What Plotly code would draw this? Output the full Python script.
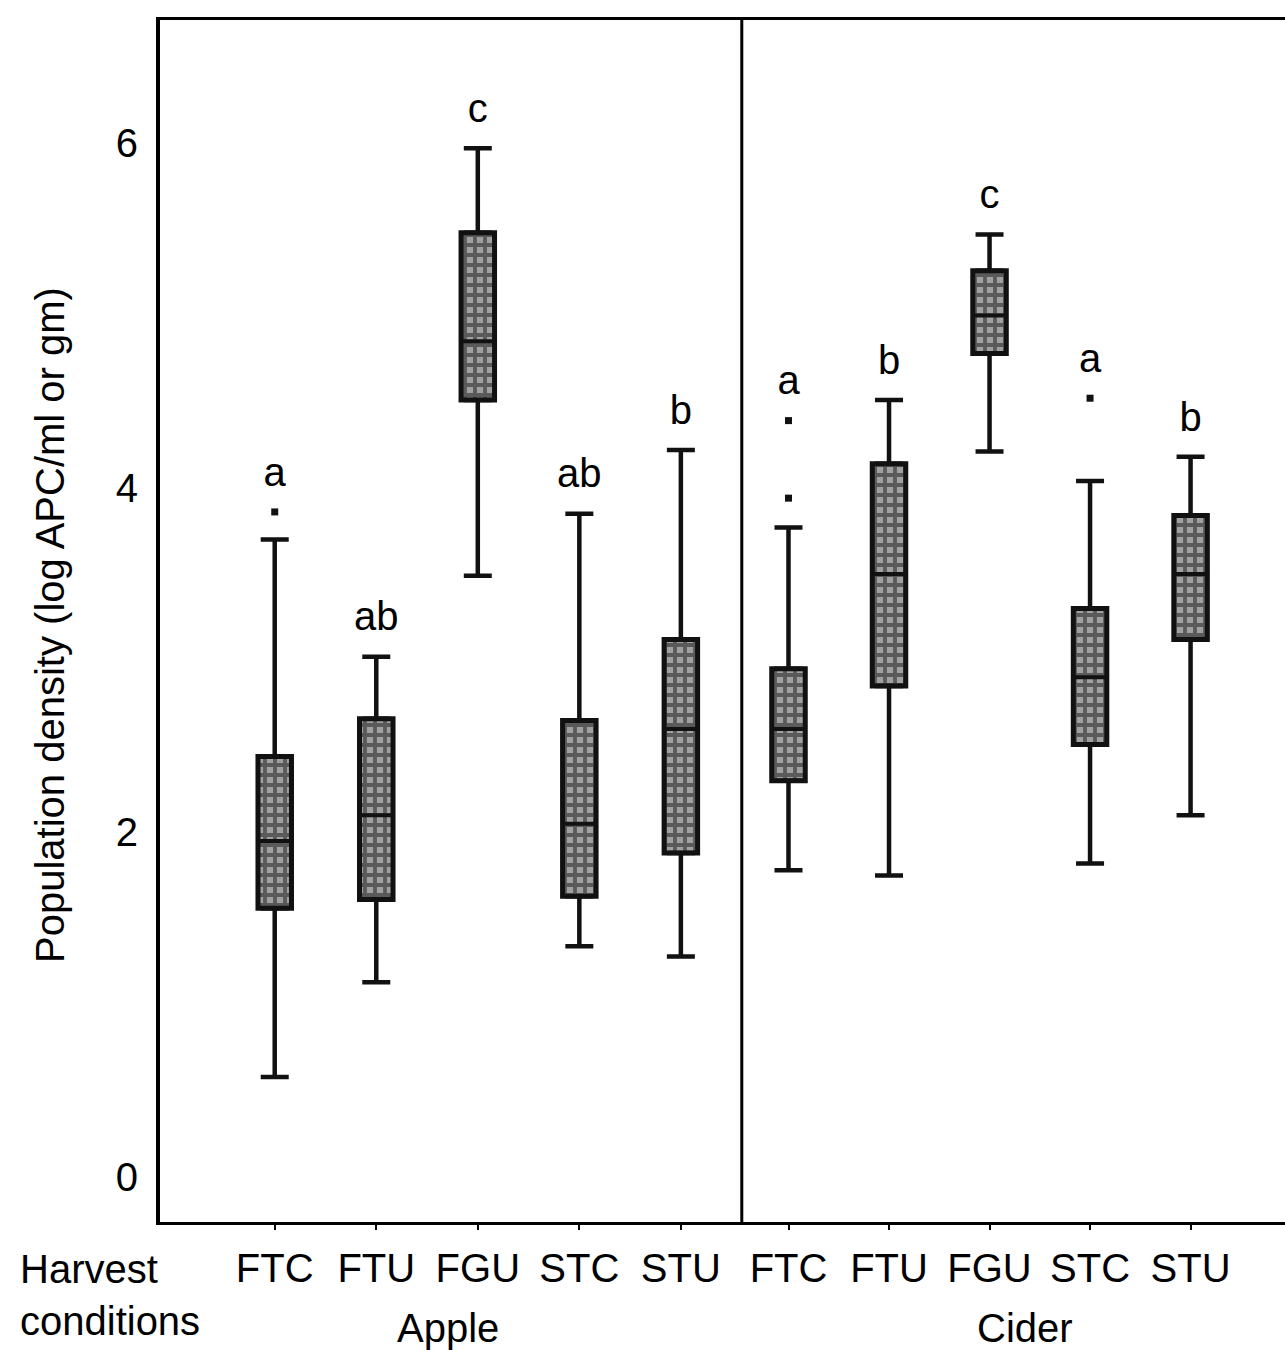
import plotly.graph_objects as go

# ---------------- data ----------------
categories = ["FTC", "FTU", "FGU", "STC", "STU"]
groups = ["Apple", "Cider"]
letters_apple = ["a", "ab", "c", "ab", "b"]
letters_cider = ["a", "b", "c", "a", "b"]

apple_q1 = [1.56, 1.61, 4.51, 1.63, 1.88]
apple_median = [1.95, 2.10, 4.85, 2.05, 2.60]
apple_q3 = [2.44, 2.66, 5.48, 2.65, 3.12]
apple_low = [0.58, 1.13, 3.49, 1.34, 1.28]
apple_high = [3.70, 3.02, 5.97, 3.85, 4.22]
apple_outliers = [[3.86], [], [], [], []]

cider_q1 = [2.30, 2.85, 4.78, 2.51, 3.12]
cider_median = [2.60, 3.50, 5.00, 2.90, 3.50]
cider_q3 = [2.95, 4.14, 5.26, 3.30, 3.84]
cider_low = [1.78, 1.75, 4.21, 1.82, 2.10]
cider_high = [3.77, 4.51, 5.47, 4.04, 4.18]
cider_outliers = [[4.39, 3.94], [], [], [4.52], []]

y_ticks = [0, 2, 4, 6]

# ---------------- layout constants ----------------
FONT = "Liberation Sans, Arial, sans-serif"
FS = 40
BOX_W = 0.33
CIDER_OFFSET = 5.06
DIVIDER = 4.6

pos = list(range(len(categories))) + [CIDER_OFFSET + i * 0.99 for i in range(len(categories))]
q1 = apple_q1 + cider_q1
med = apple_median + cider_median
q3 = apple_q3 + cider_q3
low = apple_low + cider_low
high = apple_high + cider_high
outs = apple_outliers + cider_outliers
letters = letters_apple + letters_cider

fig = go.Figure()

# boxes (patterned bars)
fig.add_trace(go.Bar(
    x=pos, base=q1, y=[b - a for a, b in zip(q1, q3)], width=BOX_W,
    marker=dict(color="#a0a0a0", line=dict(color="#111", width=5),
                pattern=dict(shape="+", fgcolor="#141414", bgcolor="#a0a0a0",
                             size=10, solidity=0.62)),
    showlegend=False, hoverinfo="skip"))

# upper whiskers
fig.add_trace(go.Scatter(
    x=pos, y=q3, mode="markers", marker=dict(size=1, opacity=0),
    error_y=dict(type="data", symmetric=False,
                 array=[h - t for h, t in zip(high, q3)], arrayminus=[0] * len(pos),
                 color="#111", thickness=4.5, width=14),
    showlegend=False, hoverinfo="skip"))
# lower whiskers
fig.add_trace(go.Scatter(
    x=pos, y=q1, mode="markers", marker=dict(size=1, opacity=0),
    error_y=dict(type="data", symmetric=False,
                 array=[0] * len(pos), arrayminus=[b - l for b, l in zip(q1, low)],
                 color="#111", thickness=4.5, width=14),
    showlegend=False, hoverinfo="skip"))

# medians
fig.add_trace(go.Scatter(
    x=pos, y=med, mode="markers",
    marker=dict(symbol="line-ew", size=26, line=dict(color="#111", width=4)),
    showlegend=False, hoverinfo="skip"))

# outliers
ox, oy = [], []
for p, o in zip(pos, outs):
    for v in o:
        ox.append(p)
        oy.append(v)
fig.add_trace(go.Scatter(
    x=ox, y=oy, mode="markers",
    marker=dict(symbol="square", size=7, color="#111"),
    showlegend=False, hoverinfo="skip"))

# significance letters
ly = [max([h] + o) + 0.21 for h, o in zip(high, outs)]
fig.add_trace(go.Scatter(
    x=pos, y=ly, mode="text", text=letters, textposition="middle center",
    textfont=dict(family=FONT, size=FS, color="#000"),
    showlegend=False, hoverinfo="skip"))

fig.add_shape(type="line", xref="x", yref="paper", x0=DIVIDER, x1=DIVIDER, y0=0, y1=1,
              line=dict(color="#000", width=3))

fig.update_layout(
    width=1285, height=1350,
    margin=dict(l=160, r=0, t=20, b=128),
    plot_bgcolor="white", paper_bgcolor="white",
    font=dict(family=FONT, size=FS, color="#000"),
    xaxis=dict(range=[-1.13, 9.95], tickvals=pos, ticktext=categories * 2,
               showline=True, mirror=True, linecolor="#000", linewidth=3,
               ticks="outside", ticklen=5, tickwidth=2, tickcolor="#000",
               ticklabelstandoff=4, showgrid=False, zeroline=False,
               tickfont=dict(family=FONT, size=FS, color="#000")),
    yaxis=dict(range=[-0.261, 6.715], tickvals=y_ticks,
               showline=True, linecolor="#000", linewidth=4,
               ticks="", ticklabelstandoff=10, showgrid=False, zeroline=False,
               tickfont=dict(family=FONT, size=FS, color="#000")),
    annotations=[
        dict(text="Population density (log APC/ml or gm)", textangle=-90,
             xref="paper", yref="paper", x=-0.0978, y=0.4967,
             xanchor="center", yanchor="middle", showarrow=False,
             font=dict(family=FONT, size=FS, color="#000")),
        dict(text=groups[0], xref="paper", yref="paper", x=0.256, y=-0.0882,
             xanchor="center", yanchor="middle", showarrow=False,
             font=dict(family=FONT, size=FS, color="#000")),
        dict(text=groups[1], xref="paper", yref="paper", x=0.769, y=-0.0882,
             xanchor="center", yanchor="middle", showarrow=False,
             font=dict(family=FONT, size=FS, color="#000")),
        dict(text="Harvest<br>conditions", xref="paper", yref="paper", x=-0.126, y=-0.0607,
             xanchor="left", yanchor="middle", align="left", showarrow=False,
             font=dict(family=FONT, size=FS, color="#000")),
    ],
)

fig.write_html("out.html", config={"displayModeBar": False},
               post_script="document.body.style.margin='0';")
